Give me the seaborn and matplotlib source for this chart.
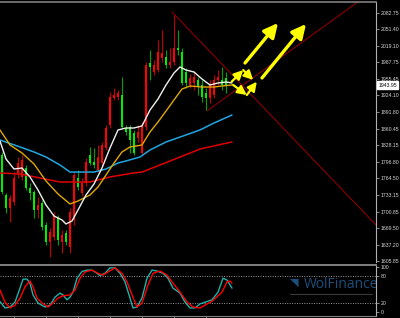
import numpy as np
import pandas as pd
import matplotlib
matplotlib.use("Agg")
import matplotlib.pyplot as plt
import matplotlib.transforms as mtransforms
import seaborn as sns

# ---------------- data ----------------
opens = [1810, 1733, 1708, 1719, 1775, 1767, 1785, 1746, 1739, 1704, 1717, 1675, 1642, 1652, 1689,
         1642, 1660, 1633, 1685, 1765, 1737, 1756, 1810, 1796, 1781, 1794, 1823, 1867, 1919, 1921,
         1925, 1862, 1864, 1852, 1842, 1814, 1864, 1987, 1969, 1973, 1996, 1998, 1983, 1989, 2015,
         2008, 1969, 1944, 1948, 1954, 1944, 1929, 1919, 1925, 1954, 1954, 1958]
highs = [1815, 1737, 1733, 1777, 1806, 1810, 1790, 1756, 1742, 1729, 1723, 1681, 1669, 1700, 1694,
         1665, 1665, 1708, 1777, 1781, 1765, 1804, 1825, 1823, 1829, 1835, 1867, 1931, 1938, 1935,
         1960, 1867, 1867, 1858, 1867, 1873, 1989, 2012, 1992, 2031, 2050, 2012, 2015, 2079, 2050,
         2015, 1977, 1965, 1969, 1960, 1954, 1939, 1954, 1964, 1973, 1979, 1969]
lows = [1735, 1698, 1681, 1714, 1765, 1762, 1742, 1723, 1689, 1689, 1665, 1637, 1614, 1646, 1637,
        1621, 1637, 1621, 1675, 1742, 1731, 1750, 1790, 1785, 1777, 1787, 1819, 1862, 1916, 1916,
        1862, 1848, 1814, 1810, 1835, 1810, 1858, 1954, 1964, 1969, 1989, 1977, 1977, 1983, 2002,
        1944, 1939, 1939, 1935, 1925, 1912, 1896, 1910, 1919, 1944, 1935, 1929]
closes = [1738, 1708, 1727, 1765, 1794, 1800, 1746, 1737, 1704, 1714, 1671, 1642, 1662, 1694, 1646,
          1656, 1642, 1700, 1771, 1748, 1756, 1796, 1794, 1790, 1806, 1829, 1862, 1921, 1925, 1929,
          1863, 1854, 1839, 1814, 1854, 1867, 1983, 1979, 1983, 2008, 2006, 1983, 1989, 2015, 2012,
          1948, 1948, 1958, 1960, 1940, 1921, 1919, 1944, 1954, 1960, 1944, 1944]

# moving averages (bar position, price)
ma_fast_x = [-0.5, 1, 3, 5, 7, 9, 11, 13, 15, 16, 17.5, 19, 21, 23, 25, 27, 29, 31, 33, 35, 37, 39,
             41, 43, 44.5, 46, 48, 50, 52, 54, 56, 57.5]
ma_fast = [1836.6, 1802, 1782.7, 1784.7, 1767.4, 1742.4, 1713.5, 1692.4, 1684.7, 1677.0, 1682.8,
           1703.9, 1732.8, 1753.9, 1784.7, 1823.2, 1857.8, 1861.6, 1861.6, 1865.5, 1896.2, 1917.4,
           1944.3, 1967.4, 1978.9, 1973.1, 1969.3, 1955.8, 1944.3, 1948.1, 1950.1, 1948.1]
ma_mid_x = [-0.5, 2, 5, 8, 11, 14, 17, 19, 22, 24, 26, 28, 30, 32, 35, 37, 39, 41, 43, 45, 47, 50,
            53, 55, 57.5]
ma_mid = [1857.8, 1828.9, 1813.5, 1792.4, 1759.7, 1734.7, 1715.5, 1721.2, 1732.8, 1748.1, 1771.2,
          1794.3, 1815.5, 1825.1, 1828.9, 1853.9, 1873.1, 1894.2, 1915.5, 1936.6, 1942.4, 1940.4,
          1940.4, 1942.4, 1944.3]
ma_slow_x = [-0.5, 4.5, 8, 11, 14.5, 17, 19.5, 23, 26, 29, 31, 34.5, 37, 41, 46, 49.5, 53, 57.5]
ma_slow = [1838.5, 1825.1, 1815.5, 1805.8, 1790.4, 1776.9, 1776.9, 1776.9, 1782.7, 1794.3, 1798.2,
           1805.8, 1819.3, 1834.7, 1848.2, 1857.8, 1871.2, 1886.6]
ma_long_x = [-0.5, 4.5, 9.5, 14.5, 22, 27, 32.75, 35, 39.5, 44.5, 49.5, 57.5]
ma_long = [1775.0, 1773.2, 1765.4, 1757.7, 1757.7, 1767.4, 1775.0, 1776.9, 1790.4, 1805.8, 1821.2,
           1834.7]

# stochastic oscillator
stoch_k_x = [-0.5, 0.75, 2, 3.25, 4.5, 5.25, 6.25, 7, 7.75, 9, 10.75, 12, 13.25, 14.5, 15.25, 16.25,
             17, 17.75, 18.75, 20, 21.25, 22.5, 23.75, 24.5, 25.75, 27, 28.25, 29.5, 30.75, 32,
             32.75, 33.75, 35, 36.25, 37.5, 38.75, 40.25, 41.5, 42.75, 44.5, 45.75, 47, 48.25,
             49.5, 52.5, 54, 55.25, 56.25, 57.5]
stoch_k = [23, 9, 11, 22, 53, 73, 73, 64, 38, 20, 11, 15, 33, 42, 38, 27, 33, 44, 75, 90, 93, 93, 86,
           81, 86, 98, 98, 86, 67, 31, 9, 11, 31, 75, 93, 91, 86, 75, 53, 42, 22, 9, 9, 18, 27, 44,
           75, 71, 53]
stoch_d_x = [-0.5, 0.75, 2, 3.25, 4.5, 5.75, 7, 7.75, 8.75, 10, 11.5, 12.75, 14, 15.25, 17, 18.25,
             19.5, 20.75, 22.5, 24, 25.25, 26.5, 28.25, 30, 31.25, 32.5, 33.75, 35, 36.5, 37.75,
             39.5, 41.25, 42.75, 44.5, 46.25, 47.75, 49.5, 52.5, 55, 56.25, 57, 57.5]
stoch_d = [49, 22, 9, 15, 31, 56, 69, 56, 31, 20, 11, 20, 31, 36, 38, 49, 75, 89, 93, 86, 82, 89, 98,
           86, 67, 38, 11, 20, 60, 86, 91, 82, 64, 44, 22, 11, 9, 24, 44, 67, 69, 64]

# price scale labels and annotations
price_ticks = [2082.75, 2051.40, 2019.10, 1987.75, 1955.45, 1924.10, 1891.80, 1860.45, 1828.15,
               1796.80, 1764.50, 1733.15, 1700.85, 1669.50, 1637.20, 1605.85]
stoch_ticks = [100, 80, 20, 0]
last_price = 1943.95
trend_down = ([42.5, 93.5], [2084.7, 1675.0])
trend_up = ([51.25, 90.0], [1894.3, 2110.0])
big_arrows = [((60.75, 1986.6), (69.0, 2063.5)), ((65.0, 1957.8), (76.0, 2061.6))]
zigzag_arrows = [((57.4, 1950.6), (60.3, 1973.0)), ((60.3, 1973.0), (62.8, 1954.0)),
                 ((57.8, 1944.3), (61.2, 1925.0)), ((61.2, 1925.0), (63.7, 1950.6))]
brand = "WolFinance"

# ---------------- styling ----------------
sns.set_theme(style="dark", rc={"axes.facecolor": "black", "figure.facecolor": "black",
                                "axes.grid": False})
plt.rcParams['font.family'] = ['Liberation Sans', 'DejaVu Sans']

fig = plt.figure(figsize=(4.0, 3.18), dpi=100, facecolor='black')
ax = fig.add_axes([0, 1 - 262 / 318, 376 / 400, 260 / 318])
ax2 = fig.add_axes([0, 1 - 316 / 318, 376 / 400, 51 / 318])
for a in (ax, ax2):
    a.set_facecolor('black')
    a.set_xlim(-0.5, 93.5)

# ---------------- candles ----------------
df = pd.DataFrame({"o": opens, "h": highs, "l": lows, "c": closes})
df["i"] = np.arange(len(df))
up = df["c"] >= df["o"]
body_col = np.where(up, "#ff0000", "#00ee00")
wick_col = np.where(up, "#c00000", "#00a000")
ax.vlines(df["i"], df["l"], df["h"], colors=wick_col, lw=0.8, zorder=2)
bottoms = np.minimum(df["o"], df["c"])
heights = np.maximum(np.abs(df["c"] - df["o"]), 1.5)
ax.bar(df["i"], heights, bottom=bottoms, width=0.7, color=body_col, lw=0, zorder=3)

# ---------------- moving averages ----------------
sns.lineplot(x=ma_long_x, y=ma_long, ax=ax, color="#e00000", lw=1.1, zorder=4)
sns.lineplot(x=ma_slow_x, y=ma_slow, ax=ax, color="#1ea7e1", lw=1.1, zorder=4)
sns.lineplot(x=ma_mid_x, y=ma_mid, ax=ax, color="#e0a800", lw=1.0, zorder=4)
sns.lineplot(x=ma_fast_x, y=ma_fast, ax=ax, color="#f0f0f0", lw=1.0, zorder=5)

# trend lines
ax.plot(trend_down[0], trend_down[1], color="#8b0000", lw=0.8, zorder=1)
ax.plot(trend_up[0], trend_up[1], color="#8b0000", lw=0.8, zorder=1)

# arrows
for tail, head in big_arrows:
    ax.annotate("", xy=head, xytext=tail,
                arrowprops=dict(arrowstyle="-|>,head_length=0.7,head_width=0.35",
                                color="#ffff00", lw=2.4, mutation_scale=12,
                                shrinkA=0, shrinkB=0), zorder=6)
for tail, head in zigzag_arrows:
    ax.annotate("", xy=head, xytext=tail,
                arrowprops=dict(arrowstyle="-|>,head_length=0.6,head_width=0.3",
                                color="#ffff00", lw=1.6, mutation_scale=9,
                                shrinkA=0, shrinkB=0), zorder=6)

ax.set_ylim(1603.9, 2103.9)
ax.yaxis.tick_right()
ax.set_yticks(price_ticks)
ax.set_yticklabels([f"{v:.2f}" for v in price_ticks])
ax.tick_params(axis='y', length=2, width=0.6, color='#a0a0a0', labelcolor='#d8d8d8',
               labelsize=3.7, pad=1.2, right=True, left=False)
ax.tick_params(axis='x', bottom=False, labelbottom=False)
ax.set_xlabel("")
ax.set_ylabel("")
for s in ['left', 'bottom']:
    ax.spines[s].set_visible(False)
ax.spines['top'].set_color('#808080')
ax.spines['top'].set_linewidth(1.2)
ax.spines['right'].set_color('#b0b0b0')
ax.spines['right'].set_linewidth(0.8)

# current price box
trans = mtransforms.blended_transform_factory(ax.transAxes, ax.transData)
ax.text(1.006, last_price, f"{last_price:.2f}", transform=trans, ha='left', va='center',
        fontsize=3.7, color='black', zorder=10, clip_on=False,
        bbox=dict(boxstyle='square,pad=0.25', fc='white', ec='white'))

# ---------------- stochastic ----------------
sns.lineplot(x=stoch_k_x, y=stoch_k, ax=ax2, color="#20b2aa", lw=1.0, zorder=3)
sns.lineplot(x=stoch_d_x, y=stoch_d, ax=ax2, color="#ff0000", lw=1.0, zorder=4)
for lvl in (80, 20):
    ax2.axhline(lvl, color='#9a9a9a', lw=0.7, ls=(0, (1, 1.5)), zorder=1)
ax2.set_ylim(-8.9, 104.4)
ax2.yaxis.tick_right()
ax2.set_yticks(stoch_ticks)
ax2.set_yticklabels([str(v) for v in stoch_ticks])
ax2.tick_params(axis='y', length=2, width=0.6, color='#a0a0a0', labelcolor='#d8d8d8',
                labelsize=3.7, pad=1.2, right=True, left=False)
ax2.set_xticks([3, 11, 19, 27, 35, 43, 51])
ax2.tick_params(axis='x', length=2, width=0.6, color='#a0a0a0', labelbottom=False,
                bottom=True, direction='out')
ax2.set_xlabel("")
ax2.set_ylabel("")
ax2.spines['left'].set_visible(False)
ax2.spines['top'].set_color('#808080')
ax2.spines['top'].set_linewidth(1.4)
ax2.spines['right'].set_color('#b0b0b0')
ax2.spines['right'].set_linewidth(0.8)
ax2.spines['bottom'].set_color('#808080')
ax2.spines['bottom'].set_linewidth(0.8)

# watermark
ax2.text(0.808, 0.62, brand, transform=ax2.transAxes, fontsize=10, color='#1b4f7c',
         ha='left', va='center', family=['Open Sans', 'DejaVu Sans'], clip_on=False, zorder=2)
ax2.text(0.77, 0.66, "\u25E5", transform=ax2.transAxes, fontsize=8, color='#1b4f7c',
         ha='left', va='center', zorder=2)
ax2.plot([0.771, 0.99], [0.44, 0.44], transform=ax2.transAxes, color='#3a3a3a', lw=0.8, zorder=2)

fig.savefig("out.png", dpi=100, facecolor='black')
